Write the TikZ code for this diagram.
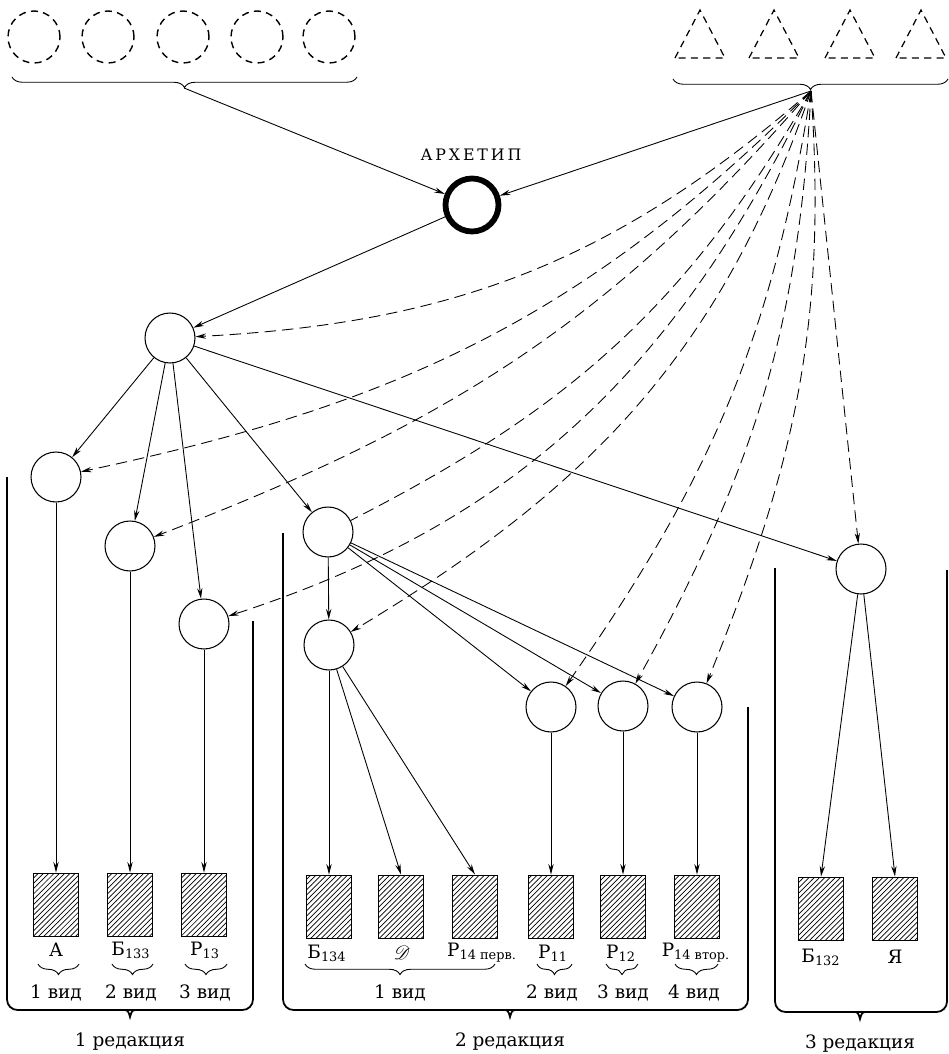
\documentclass[tikz,border=0pt]{standalone}
\usepackage{fontspec}
\setmainfont{DejaVu Serif}
\newfontfamily\spaced[LetterSpace=18]{DejaVu Serif}
\usepackage{mathrsfs}
\usetikzlibrary{arrows.meta,patterns,decorations.pathreplacing}

\tikzset{
  hyp/.style={circle, draw, line width=0.6pt, minimum size=1cm, inner sep=0pt},
  arch/.style={circle, draw, line width=3.3pt, minimum size=1.06cm, inner sep=0pt, outer sep=1.6pt},
  lostc/.style={circle, draw, line width=0.8pt, dash pattern=on 4pt off 3pt, minimum size=1.04cm, inner sep=0pt},
  lost/.style={draw, line width=0.7pt, dash pattern=on 4pt off 3pt},
  ms/.style={draw, line width=1.1pt, minimum width=0.9cm, minimum height=1.26cm, inner sep=0pt, pattern=north east lines},
  link/.style={line width=0.5pt, -{Stealth[length=6pt,width=3pt]}},
  infl/.style={link, dash pattern=on 6.5pt off 3.5pt},
  bracket/.style={line width=1pt, rounded corners=6pt},
  vbrace/.style={decorate, decoration={brace, mirror, amplitude=6pt}, line width=0.5pt},
  lbl/.style={font=\fontsize{10.5}{12}\selectfont, inner sep=1pt},
}

\begin{document}
\begin{tikzpicture}[x=0.02cm, y=-0.02cm]
\useasboundingbox (0,0) rectangle (949,1054);

% lost sources (circles)
\foreach \i/\x in {1/34,2/108,3/183,4/257,5/329}
  \node[lostc] (p\i) at (\x,37) {};
\draw[vbrace] (12,77) -- (357,77);
\coordinate (lsrc) at (184,88);

% lost sources (triangles)
\foreach \x in {700,774,850,921}
  \draw[lost] (\x-25,58) -- (\x,10) -- (\x+25,58) -- cycle;
\draw[vbrace] (673,79) -- (948,79);
\coordinate (rsrc) at (811,91);

% archetype and hyparchetypes
\node[arch] (arch) at (472,205) {};
\node[font=\spaced\fontsize{9}{11}\selectfont] (tarch) at (471,155) {АРХЕТИП};
\node[hyp] (A) at (170,338) {};
\node[hyp] (L1) at (56,477) {};
\node[hyp] (L2) at (130,546) {};
\node[hyp] (L3) at (204,624) {};
\node[hyp] (M) at (328,532) {};
\node[hyp] (M2) at (329,645) {};
\node[hyp] (S1) at (551,707) {};
\node[hyp] (S2) at (623,706) {};
\node[hyp] (S3) at (697,707) {};
\node[hyp] (R) at (861,569) {};

% manuscripts
\node[ms] (bA) at (56,905) {};
\node[ms] (bB133) at (130,905) {};
\node[ms] (bP13) at (204,905) {};
\node[ms] (bB134) at (329,907) {};
\node[ms] (bD) at (401,907) {};
\node[ms] (bP14a) at (475,907) {};
\node[ms] (bP11) at (551,907) {};
\node[ms] (bP12) at (623,907) {};
\node[ms] (bP14b) at (697,907) {};
\node[ms] (bB132) at (821,909) {};
\node[ms] (bJa) at (895,909) {};

% solid links
\draw[link] (lsrc) -- (arch);
\draw[link] (rsrc) -- (arch);
\draw[link] (arch) -- (A);
\foreach \n in {L1,L2,L3,M,R}
  \draw[link] (A) -- (\n);
\foreach \n in {M2,S1,S2,S3}
  \draw[link] (M) -- (\n);
\draw[link] (L1) -- (bA);
\draw[link] (L2) -- (bB133);
\draw[link] (L3) -- (bP13);
\draw[link] (M2) -- (bB134);
\draw[link] (M2) -- (bD.north);
\draw[link] (M2) -- (bP14a.north);
\draw[link] (S1) -- (bP11);
\draw[link] (S2) -- (bP12);
\draw[link] (S3) -- (bP14b);
\draw[link] (R) -- (bB132.north);
\draw[link] (R) -- (bJa.north);

% dashed links
\draw[infl] (rsrc) to[out=221,in=3] (A);
\draw[infl] (rsrc) to[out=225,in=12] (L1);
\draw[infl] (rsrc) to[out=229,in=21] (L2);
\draw[infl] (rsrc) to[out=244,in=18] (L3);
\draw[infl,-] (rsrc) to[out=240,in=27] (M);
\draw[infl] (rsrc) to[out=251,in=31] (M2);
\draw[infl] (rsrc) to[out=261,in=55] (S1);
\draw[infl] (rsrc) to[out=267,in=61] (S2);
\draw[infl] (rsrc) to[out=274,in=68] (S3);
\draw[infl] (rsrc) -- (R);

% labels
\node[lbl] (lA) at (56,950) {А};
\node[lbl] (lB133) at (131,950) {Б\textsubscript{133}};
\node[lbl] (lP13) at (205,950) {Р\textsubscript{13}};
\node[lbl] (lB134) at (327,953) {Б\textsubscript{134}};
\node[lbl] (lD) at (402,953) {$\mathscr{D}$};
\node[lbl] (lP14a) at (482,953) {Р\textsubscript{14 перв.}};
\node[lbl] (lP11) at (553,953) {Р\textsubscript{11}};
\node[lbl] (lP12) at (621,953) {Р\textsubscript{12}};
\node[lbl] (lP14b) at (696,953) {Р\textsubscript{14 втор.}};
\node[lbl] (lB132) at (821,957) {Б\textsubscript{132}};
\node[lbl] (lJa) at (895,957) {Я};

\draw[vbrace] (38,964) -- (79,964);
\draw[vbrace] (112,964) -- (153,964);
\draw[vbrace] (185,964) -- (227,964);
\draw[vbrace] (305,964) -- (495,964);
\draw[vbrace] (537,964) -- (572,964);
\draw[vbrace] (606,964) -- (638,964);
\draw[vbrace] (675,964) -- (718,964);

\node[lbl] (v1) at (56,993) {1 вид};
\node[lbl] (v2) at (131,993) {2 вид};
\node[lbl] (v3) at (205,993) {3 вид};
\node[lbl] (w1) at (400,993) {1 вид};
\node[lbl] (w2) at (552,993) {2 вид};
\node[lbl] (w3) at (623,993) {3 вид};
\node[lbl] (w4) at (694,993) {4 вид};

% redactions
\draw[bracket] (7,477) -- (7,1010) -- (253,1010) -- (253,621);
\draw[line width=1pt] (122,1010) .. controls (128,1010) .. (130,1017) .. controls (132,1010) .. (138,1010);
\draw[bracket] (283,533) -- (283,1010) -- (748,1010) -- (748,707);
\draw[line width=1pt] (502,1010) .. controls (508,1010) .. (510,1017) .. controls (512,1010) .. (518,1010);
\draw[bracket] (775,568) -- (775,1012) -- (947,1012) -- (947,570);
\draw[line width=1pt] (852,1012) .. controls (858,1012) .. (860,1019) .. controls (862,1012) .. (868,1012);

\node[lbl] (red1) at (130,1042) {1 редакция};
\node[lbl] (red2) at (510,1042) {2 редакция};
\node[lbl] (red3) at (860,1044) {3 редакция};
\end{tikzpicture}
\end{document}
